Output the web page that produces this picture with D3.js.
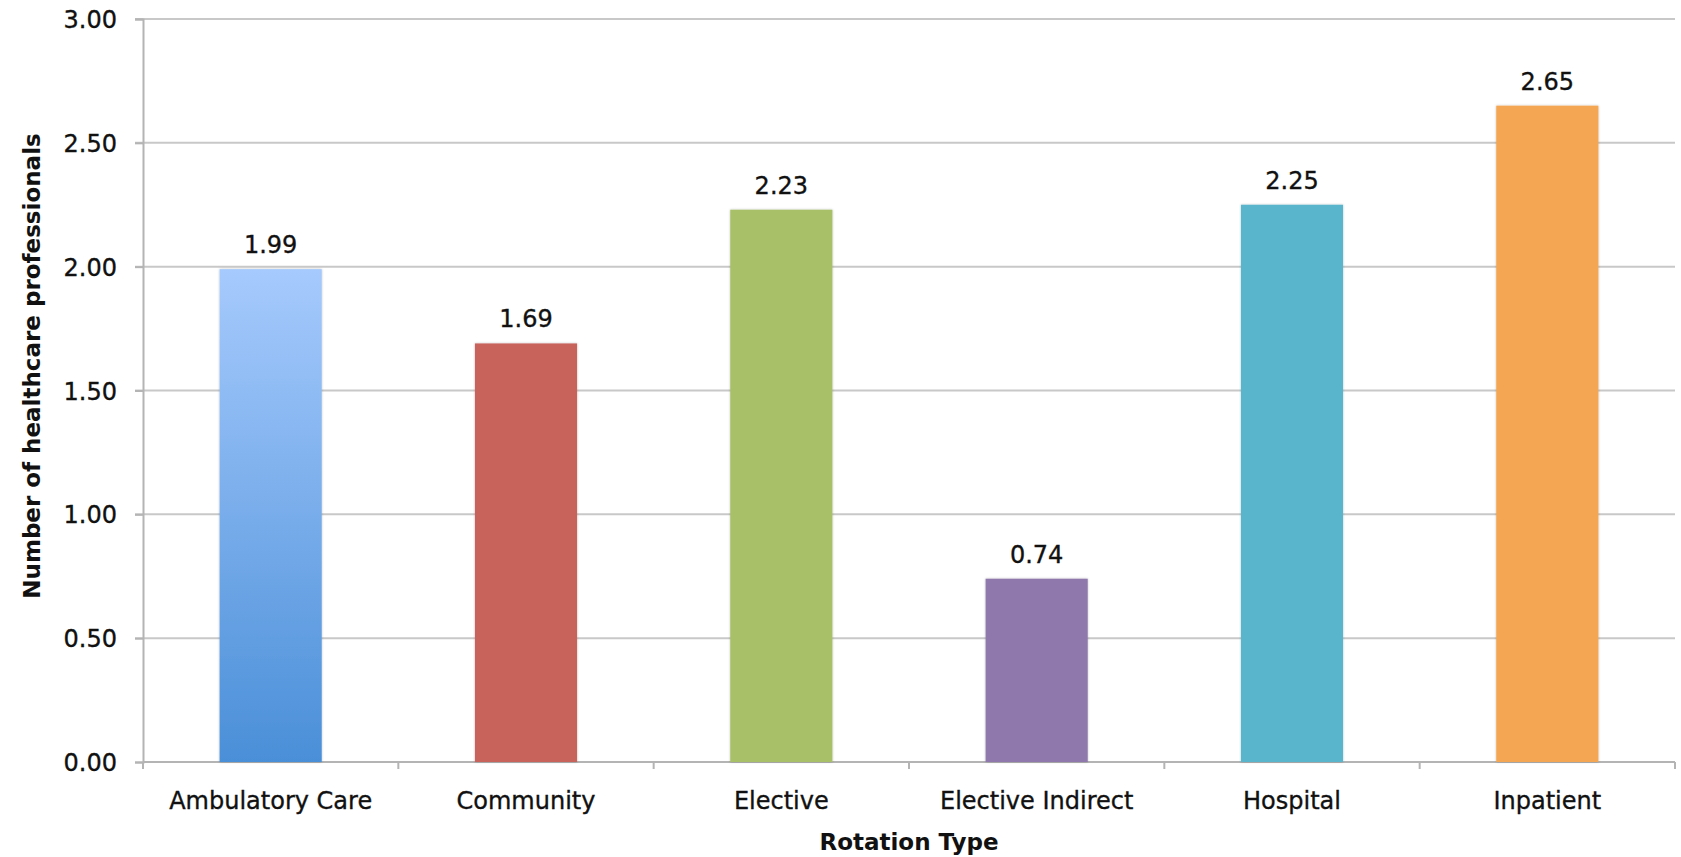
<!DOCTYPE html>
<html>
<head>
<meta charset="utf-8">
<script src="https://cdn.jsdelivr.net/npm/d3@7"></script>
<style>
  body { margin: 0; background: #fff; }
  svg { display: block; }
  text { font-family: "DejaVu Sans", Verdana, sans-serif; fill: #111; }
  .lbl { font-size: 24px; stroke: #111; stroke-width: 0.35px; }
  .ttl { font-size: 23px; font-weight: bold; }
</style>
</head>
<body>
<div id="chart"></div>
<script>
// data
var categories = ["Ambulatory Care", "Community", "Elective", "Elective Indirect", "Hospital", "Inpatient"];
var values = [1.99, 1.69, 2.23, 0.74, 2.25, 2.65];
var barColors = ["url(#blueGrad)", "#c8635b", "#a8c068", "#8f79ac", "#58b5cc", "#f4a653"];
var yTicks = [0, 0.5, 1, 1.5, 2, 2.5, 3];

var width = 1681, height = 857;
var margin = { top: 19, right: 6, bottom: 95, left: 143 };
var w = width - margin.left - margin.right,
    h = height - margin.top - margin.bottom;

var svg = d3.select("#chart").append("svg")
    .attr("width", width)
    .attr("height", height);

var defs = svg.append("defs");
var grad = defs.append("linearGradient")
    .attr("id", "blueGrad")
    .attr("x1", 0).attr("y1", 0).attr("x2", 0).attr("y2", 1);
grad.append("stop").attr("offset", "0%").attr("stop-color", "#a6cafd");
grad.append("stop").attr("offset", "100%").attr("stop-color", "#4a8fd8");

// soft shadow round the bars
var shadow = defs.append("filter").attr("id", "shadow")
    .attr("x", "-10%").attr("y", "-10%").attr("width", "120%").attr("height", "120%");
shadow.append("feDropShadow")
    .attr("dx", 0).attr("dy", 0).attr("stdDeviation", 1.2)
    .attr("flood-color", "#000").attr("flood-opacity", 0.25);

var g = svg.append("g").attr("transform", "translate(" + margin.left + "," + margin.top + ")");

var x = d3.scaleBand()
    .domain(categories)
    .range([0, w])
    .paddingInner(0.6)
    .paddingOuter(0.3);

var y = d3.scaleLinear()
    .domain([0, 3])
    .range([h, 0]);

// gridlines
g.selectAll(".grid")
    .data(yTicks.filter(d => d > 0))
    .enter().append("line")
    .attr("x1", -8)
    .attr("x2", w)
    .attr("y1", d => y(d))
    .attr("y2", d => y(d))
    .style("stroke", "#c8c8c8")
    .style("stroke-width", 2);

// y axis
var yAxis = g.append("g")
    .call(d3.axisLeft(y).tickValues(yTicks).tickFormat(d3.format(".2f")).tickSize(8).tickPadding(18));
yAxis.select(".domain").style("stroke", "#b4b4b4").style("stroke-width", 2);
yAxis.selectAll(".tick line").style("stroke", "#b4b4b4").style("stroke-width", 2);
yAxis.selectAll("text").attr("class", "lbl").attr("dy", "0.36em")
    .style("font-family", null).style("font-size", null);
yAxis.attr("font-family", null).attr("font-size", null);

// x axis: ticks sit on band edges
var edges = categories.map(c => x(c) - x.step() * x.paddingInner() / 2);
edges.push(w);
var xAxis = g.append("g").attr("transform", "translate(0," + h + ")");
xAxis.append("line")
    .attr("x1", 0).attr("x2", w)
    .style("stroke", "#b4b4b4").style("stroke-width", 2);
xAxis.selectAll(".xtick")
    .data(edges)
    .enter().append("line")
    .attr("x1", d => d).attr("x2", d => d)
    .attr("y1", 0).attr("y2", 7)
    .style("stroke", "#b4b4b4").style("stroke-width", 2);
xAxis.selectAll(".xlabel")
    .data(categories)
    .enter().append("text")
    .attr("class", "lbl")
    .attr("x", d => x(d) + x.bandwidth() / 2)
    .attr("y", 47)
    .attr("text-anchor", "middle")
    .text(d => d);

// bars
g.selectAll(".bar")
    .data(values)
    .enter().append("rect")
    .attr("x", (d, i) => x(categories[i]))
    .attr("y", d => y(d))
    .attr("width", x.bandwidth())
    .attr("height", d => h - y(d))
    .attr("filter", "url(#shadow)")
    .style("fill", (d, i) => barColors[i]);

// value labels
g.selectAll(".val")
    .data(values)
    .enter().append("text")
    .attr("class", "lbl")
    .attr("x", (d, i) => x(categories[i]) + x.bandwidth() / 2)
    .attr("y", d => y(d) - 16)
    .attr("text-anchor", "middle")
    .text(d => d.toFixed(2));

// axis titles
svg.append("text")
    .attr("class", "ttl")
    .attr("x", margin.left + w / 2)
    .attr("y", 850)
    .attr("text-anchor", "middle")
    .text("Rotation Type");

svg.append("text")
    .attr("class", "ttl")
    .attr("transform", "translate(40,366) rotate(-90)")
    .attr("text-anchor", "middle")
    .text("Number of healthcare professionals");
</script>
</body>
</html>
